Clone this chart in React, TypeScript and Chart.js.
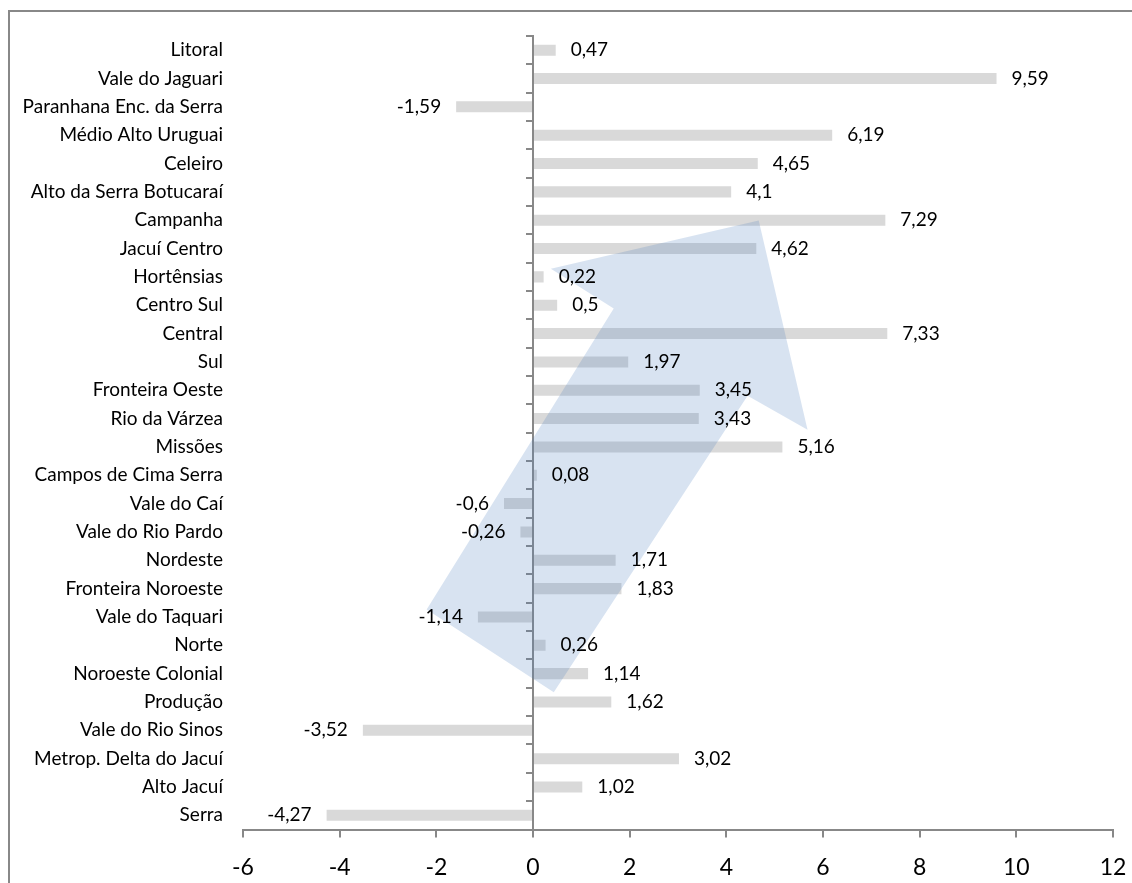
import React, { useEffect, useRef } from 'react';
import { Chart, registerables } from 'chart.js';

Chart.register(...registerables);

const categories: string[] = [
  'Litoral',
  'Vale do Jaguari',
  'Paranhana Enc. da Serra',
  'Médio Alto Uruguai',
  'Celeiro',
  'Alto da Serra Botucaraí',
  'Campanha',
  'Jacuí Centro',
  'Hortênsias',
  'Centro Sul',
  'Central',
  'Sul',
  'Fronteira Oeste',
  'Rio da Várzea',
  'Missões',
  'Campos de Cima Serra',
  'Vale do Caí',
  'Vale do Rio Pardo',
  'Nordeste',
  'Fronteira Noroeste',
  'Vale do Taquari',
  'Norte',
  'Noroeste Colonial',
  'Produção',
  'Vale do Rio Sinos',
  'Metrop. Delta do Jacuí',
  'Alto Jacuí',
  'Serra',
];

const values: number[] = [
  0.47, 9.59, -1.59, 6.19, 4.65, 4.1, 7.29, 4.62, 0.22, 0.5, 7.33, 1.97, 3.45, 3.43,
  5.16, 0.08, -0.6, -0.26, 1.71, 1.83, -1.14, 0.26, 1.14, 1.62, -3.52, 3.02, 1.02, -4.27,
];

const xMin = -6;
const xMax = 12;
const xStep = 2;

// Decorative arrow outline, in data space: value along x, category index along y
const arrowX: number[] = [-2.2, 1.67, 0.37, 4.67, 5.68, 4.44, 0.43];
const arrowY: number[] = [19.74, 9.12, 7.71, 6.01, 13.39, 12.19, 22.66];

const FONT = 'Lato, "Open Sans", sans-serif';

const overlayPlugin = {
  id: 'overlay',
  afterDatasetsDraw(chart: any) {
    const ctx = chart.ctx as CanvasRenderingContext2D;
    const xs = chart.scales.x;
    const ys = chart.scales.y;
    ctx.save();
    ctx.beginPath();
    arrowX.forEach((v, i) => {
      const px = xs.getPixelForValue(v);
      const py = ys.getPixelForValue(arrowY[i]);
      if (i === 0) ctx.moveTo(px, py);
      else ctx.lineTo(px, py);
    });
    ctx.closePath();
    ctx.fillStyle = 'rgba(79,129,189,0.22)';
    ctx.fill();

    const meta = chart.getDatasetMeta(0);
    ctx.font = `19px ${FONT}`;
    ctx.fillStyle = '#000';
    ctx.textBaseline = 'middle';
    meta.data.forEach((el: any, i: number) => {
      const v = values[i];
      const txt = String(v).replace('.', ',');
      if (v >= 0) {
        ctx.textAlign = 'left';
        ctx.fillText(txt, el.x + 15, el.y);
      } else {
        ctx.textAlign = 'right';
        ctx.fillText(txt, el.x - 15, el.y);
      }
    });
    ctx.restore();
  },
};

const noPad = (s: any) => {
  s.paddingTop = 0;
  s.paddingBottom = 0;
  s.paddingLeft = 0;
  s.paddingRight = 0;
};

export default function App() {
  const ref = useRef<HTMLCanvasElement | null>(null);

  useEffect(() => {
    if (!ref.current) return;
    const chart = new Chart(ref.current, {
      type: 'bar',
      data: {
        labels: categories,
        datasets: [
          {
            data: values,
            backgroundColor: '#d9d9d9',
            borderWidth: 0,
            categoryPercentage: 1,
            barPercentage: 0.39,
          },
        ],
      },
      options: {
        indexAxis: 'y',
        responsive: false,
        animation: false,
        devicePixelRatio: 1,
        layout: { padding: { top: 24, right: 19, bottom: 0, left: 0 } },
        plugins: {
          legend: { display: false },
          tooltip: { enabled: false },
        },
        scales: {
          x: {
            type: 'linear',
            min: xMin,
            max: xMax,
            ticks: {
              stepSize: xStep,
              font: { family: FONT, size: 23 },
              color: '#000',
              padding: 16,
            },
            grid: {
              drawOnChartArea: false,
              drawTicks: true,
              tickLength: 8,
              color: '#888',
              lineWidth: 2,
            },
            border: { display: true, color: '#888', width: 2 },
            afterFit: (s: any) => {
              s.height = 53.5;
              noPad(s);
            },
          },
          y: {
            type: 'category',
            position: 'left',
            grid: { display: false, drawTicks: false },
            border: { display: false },
            ticks: {
              font: { family: FONT, size: 19 },
              color: '#000',
              padding: 20,
              autoSkip: false,
            },
            afterFit: (s: any) => {
              s.width = 233;
              noPad(s);
            },
          },
          y2: {
            type: 'category',
            labels: categories,
            position: { x: 0 } as any,
            offset: true,
            grid: {
              offset: true,
              drawOnChartArea: false,
              drawTicks: true,
              tickLength: 6,
              color: '#888',
              lineWidth: 2,
            },
            ticks: { display: false, autoSkip: false },
            border: { display: true, color: '#888', width: 2 },
            afterFit: (s: any) => {
              s.width = 0;
              noPad(s);
            },
          },
        },
      },
      plugins: [overlayPlugin],
    } as any);
    return () => chart.destroy();
  }, []);

  return (
    <div
      style={{
        position: 'fixed',
        left: 8,
        top: 10,
        borderLeft: '2px solid #888',
        borderTop: '2px solid #888',
        width: 1122,
        height: 871,
      }}
    >
      <canvas ref={ref} width={1122} height={871} style={{ display: 'block' }} />
    </div>
  );
}
